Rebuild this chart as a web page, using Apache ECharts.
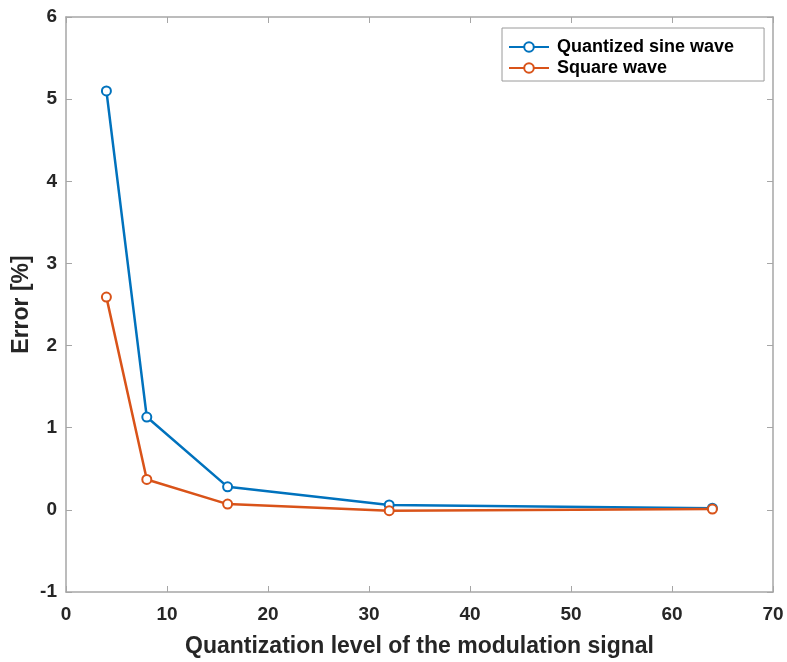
<!DOCTYPE html>
<html>
<head>
<meta charset="utf-8">
<script src="https://cdn.jsdelivr.net/npm/echarts@6/dist/echarts.min.js"></script>
<style>html,body{margin:0;padding:0;background:#fff}#c{width:787px;height:662px}</style>
</head>
<body>
<div id="c"></div>
<script>
const levels = [4, 8, 16, 32, 64];
const sineError = [5.10, 1.13, 0.28, 0.06, 0.02];
const squareError = [2.59, 0.37, 0.07, -0.01, 0.01];
const seriesNames = ['Quantized sine wave', 'Square wave'];
const xTitle = 'Quantization level of the modulation signal';
const yTitle = 'Error [%]';

const FONT = '"Liberation Sans", Arial, Helvetica, sans-serif';
const axisGrey = '#a6a6a6';
const labelCol = '#262626';

const chart = echarts.init(document.getElementById('c'));
function pairs(xs, ys){ return xs.map((x,i)=>[x, ys[i]]); }
const mkSeries = (name, data, color) => ({
  name, type: 'line', data, xAxisIndex: 0, yAxisIndex: 0,
  symbol: 'circle', symbolSize: 9,
  itemStyle: { color: '#fff', borderColor: color, borderWidth: 2 },
  lineStyle: { color, width: 2.5 },
  emphasis: { disabled: true },
  animation: false, z: 3
});
chart.setOption({
  animation: false,
  backgroundColor: '#fff',
  grid: { left: 66, right: 14, top: 17, bottom: 70, containLabel: false, outerBoundsMode: 'none' },
  legend: {
    orient: 'vertical', left: 502, top: 28,
    width: 261,
    padding: [10, 30, 4, 6],
    itemWidth: 40, itemHeight: 12, itemGap: 3,
    backgroundColor: '#fff', borderColor: '#9a9a9a', borderWidth: 1,
    borderRadius: 0,
    textStyle: { fontFamily: FONT, fontWeight: 'bold', fontSize: 18, color: '#000', padding: [0,0,0,3] },
    data: seriesNames
  },
  xAxis: [{
    type: 'value', min: 0, max: 70, interval: 10,
    name: xTitle, nameLocation: 'middle', nameGap: 43,
    nameTextStyle: { fontFamily: FONT, fontWeight: 'bold', fontSize: 23, color: labelCol },
    axisLine: { show: true, onZero: false, lineStyle: { color: axisGrey, width: 1.5 } },
    axisTick: { show: true, inside: true, length: 6, lineStyle: { color: axisGrey, width: 1 } },
    axisLabel: { fontFamily: FONT, fontWeight: 'bold', fontSize: 19, color: labelCol, margin: 13 },
    splitLine: { show: false }
  }, {
    type: 'value', min: 0, max: 70, interval: 10, position: 'top',
    axisLine: { show: true, onZero: false, lineStyle: { color: axisGrey, width: 1.5 } },
    axisTick: { show: true, inside: true, length: 6, lineStyle: { color: axisGrey, width: 1 } },
    axisLabel: { show: false }, splitLine: { show: false }
  }],
  yAxis: [{
    type: 'value', min: -1, max: 6, interval: 1,
    name: yTitle, nameLocation: 'middle', nameGap: 33, nameRotate: 90, nameMoveOverlap: false,
    nameTextStyle: { fontFamily: FONT, fontWeight: 'bold', fontSize: 23, color: labelCol },
    axisLine: { show: true, onZero: false, lineStyle: { color: axisGrey, width: 1.5 } },
    axisTick: { show: true, inside: true, length: 6, lineStyle: { color: axisGrey, width: 1 } },
    axisLabel: { fontFamily: FONT, fontWeight: 'bold', fontSize: 19, color: labelCol, margin: 9 },
    splitLine: { show: false }
  }, {
    type: 'value', min: -1, max: 6, interval: 1, position: 'right',
    axisLine: { show: true, onZero: false, lineStyle: { color: axisGrey, width: 1.5 } },
    axisTick: { show: true, inside: true, length: 6, lineStyle: { color: axisGrey, width: 1 } },
    axisLabel: { show: false }, splitLine: { show: false }
  }],
  series: [
    mkSeries(seriesNames[0], pairs(levels, sineError), '#0072BD'),
    mkSeries(seriesNames[1], pairs(levels, squareError), '#D95319')
  ]
});
</script>
</body>
</html>
